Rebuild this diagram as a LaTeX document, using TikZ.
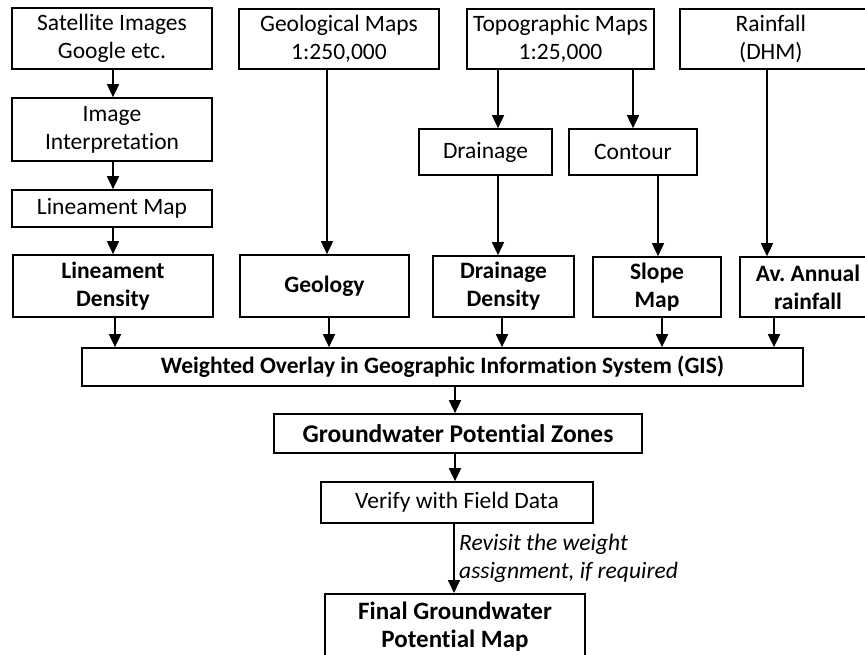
\documentclass[tikz,border=0pt]{standalone}
\usepackage{fontspec}
\setmainfont{Carlito}[Ligatures=NoCommon]
\usetikzlibrary{arrows.meta}
\begin{document}
\begin{tikzpicture}[x=1pt,y=-1pt,
  box/.style={draw,line width=1.7pt,align=center,inner sep=0pt,font=\fontsize{23.5}{28}\selectfont},
  bbox/.style={box,font=\fontsize{23.5}{28}\selectfont\bfseries},
  arr/.style={line width=1.7pt,-{Triangle[length=13pt,width=12pt]}}]
\useasboundingbox (0,0) rectangle (865,654);
\clip (0,0) rectangle (865,654);
% top row
\node[box,minimum width=200pt,minimum height=61pt] (sat) at (112,38.5) {Satellite Images\\Google etc.};
\node[box,minimum width=200pt,minimum height=60pt] (geomap) at (339,39) {Geological Maps\\1:250,000};
\node[box,minimum width=187pt,minimum height=60pt] (topo) at (560.5,39) {Topographic Maps\\1:25,000};
\node[box,minimum width=190pt,minimum height=60pt,anchor=west] (rain) at (679,39) {\hspace*{-8pt}Rainfall\\\hspace*{-8pt}(DHM)};
% left column
\node[box,minimum width=200pt,minimum height=63pt] (interp) at (112,129.5) {Image\\Interpretation};
\node[box,minimum width=200pt,minimum height=37pt] (linmap) at (112,208.5) {Lineament Map};
% middle row
\node[box,minimum width=133pt,minimum height=46pt] (drain) at (485.5,152) {Drainage};
\node[box,minimum width=128pt,minimum height=46pt] (contour) at (633,152) {Contour};
% thematic layers
\node[bbox,minimum width=200pt,minimum height=62pt] (linden) at (113,286) {Lineament\\Density};
\node[bbox,minimum width=169pt,minimum height=62pt] (geology) at (324.5,286) {Geology};
\node[bbox,minimum width=141pt,minimum height=61pt] (drainden) at (503.5,286.5) {Drainage\\Density};
\node[bbox,minimum width=128pt,minimum height=60pt] (slope) at (657,287) {Slope\\Map};
\node[bbox,minimum width=136pt,minimum height=60pt] (avann) at (808,287) {Av.\ Annual\\rainfall};
% lower chain
\node[bbox,minimum width=721pt,minimum height=38pt] (gis) at (442.5,367) {Weighted Overlay in Geographic Information System (GIS)};
\node[bbox,minimum width=368pt,minimum height=39pt,font=\fontsize{25.5}{28}\selectfont\bfseries] (gpz) at (458,433.5) {Groundwater Potential Zones};
\node[box,minimum width=272pt,minimum height=41pt] (verify) at (457,502.5) {Verify with Field Data};
\node[bbox,minimum width=260pt,inner ysep=8pt,anchor=north,font=\fontsize{25}{28}\selectfont\bfseries] (final) at (455,593) {Final Groundwater\\Potential Map};
% arrow columns
\coordinate (cg) at ([xshift=2.5pt]geology.north);
\coordinate (cd) at ([xshift=12.5pt]drain.north);
\coordinate (cds) at ([xshift=12.5pt]drain.south);
\coordinate (ccs) at ([xshift=25pt]contour.south);
\coordinate (cr) at ([xshift=-41pt]avann.north);
\coordinate (l1) at ([xshift=2pt]linden.south);
\coordinate (l2) at ([xshift=4.5pt]geology.south);
\coordinate (l3) at ([xshift=-1.5pt]drainden.south);
\coordinate (l4) at ([xshift=5pt]slope.south);
\coordinate (l5) at ([xshift=-34pt]avann.south);
\coordinate (g1) at ([xshift=12.5pt]gis.south);
\coordinate (g2) at ([xshift=-3pt]gpz.south);
\coordinate (g3) at ([xshift=-3pt]verify.south);
% arrows
\draw[arr] ([xshift=1pt]sat.south) -- ([xshift=1pt]interp.north);
\draw[arr] ([xshift=1pt]interp.south) -- ([xshift=1pt]linmap.north);
\draw[arr] ([xshift=1pt]linmap.south) -- (linden.north);
\draw[arr] (cg |- geomap.south) -- (cg);
\draw[arr] (cd |- topo.south) -- (cd);
\draw[arr] (contour.north |- topo.south) -- (contour.north);
\draw[arr] (cds) -- (cds |- drainden.north);
\draw[arr] (ccs) -- (ccs |- slope.north);
\draw[arr] (cr |- rain.south) -- (cr);
\draw[arr] (l1) -- (l1 |- gis.north);
\draw[arr] (l2) -- (l2 |- gis.north);
\draw[arr] (l3) -- (l3 |- gis.north);
\draw[arr] (l4) -- (l4 |- gis.north);
\draw[arr] (l5) -- (l5 |- gis.north);
\draw[arr] (g1) -- (g1 |- gpz.north);
\draw[arr] (g2) -- (g2 |- verify.north);
\draw[arr] (g3) -- node[right,align=left,xshift=1pt,font=\fontsize{23.5}{28}\selectfont\itshape]{Revisit the weight\\assignment, if required} (g3 |- final.north);
\end{tikzpicture}
\end{document}
